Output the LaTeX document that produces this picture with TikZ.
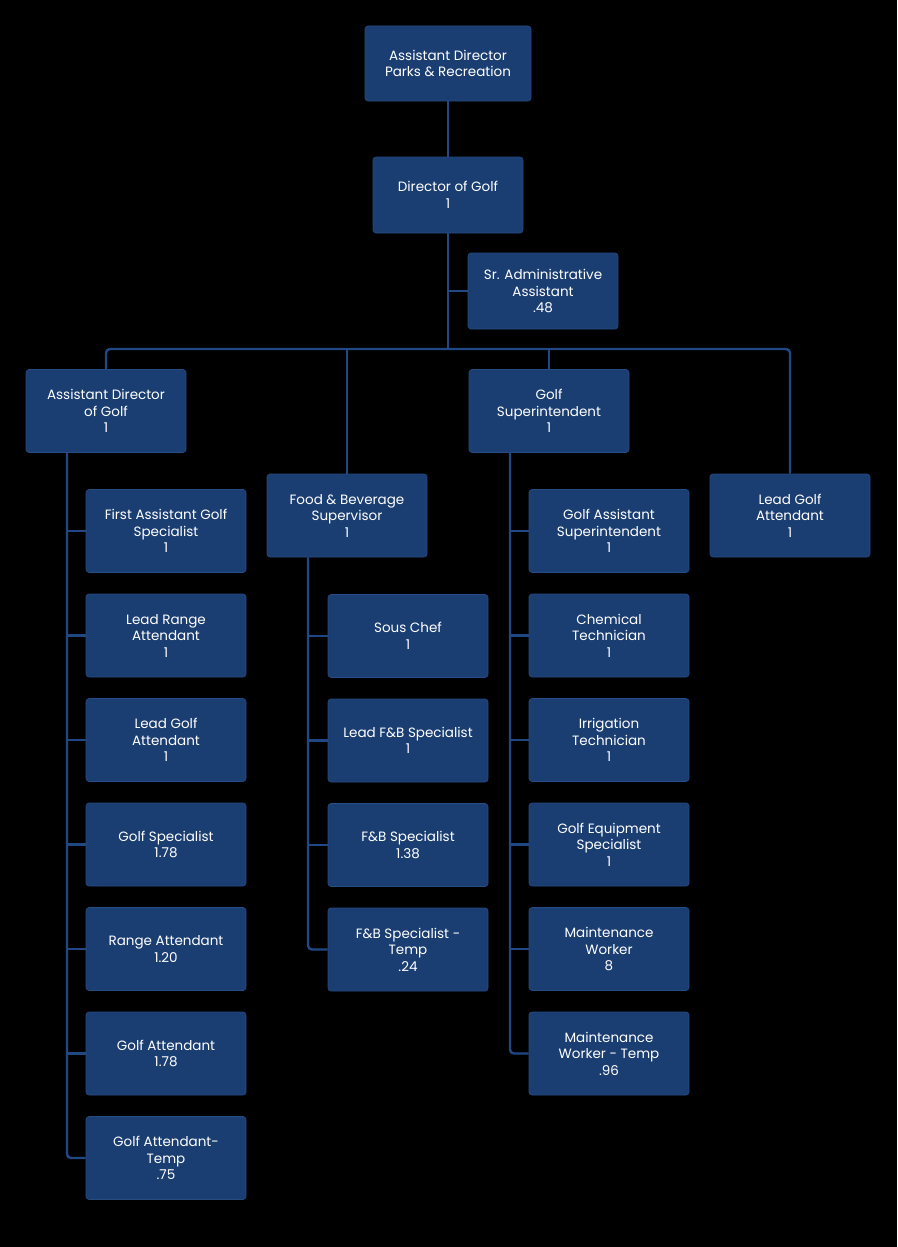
\documentclass[tikz,border=0pt]{standalone}
\usepackage{fontspec}
\setmainfont{Poppins}
\definecolor{unitblue}{RGB}{27,62,114}
\definecolor{unitedge}{RGB}{38,76,132}
\definecolor{linkblue}{RGB}{32,72,132}
\tikzset{
    unit/.style = {rectangle, rounded corners=3pt, fill=unitblue, draw=unitedge,
        line width=0.6pt, text=white, align=center, minimum width=160pt,
        minimum height=83pt, inner sep=2pt, font=\fontsize{13.5}{16.5}\selectfont},
    link/.style = {draw=linkblue, line width=2.4pt, rounded corners=4pt}
}
\begin{document}
\begin{tikzpicture}[x=1pt, y=-1pt]
        \fill[black] (0,0) rectangle (897,1247);
        \useasboundingbox (0,0) rectangle (897,1247);
        % top of the chart
        \node[unit, minimum width=166pt, minimum height=75pt] (adpr) at (448,63.5) {Assistant Director\\Parks \& Recreation};
        \node[unit, minimum width=150pt, minimum height=76pt] (dir) at (448,195) {Director of Golf\\1};
        \node[unit, minimum width=150pt, minimum height=76pt] (saa) at (543,291) {Sr. Administrative\\Assistant\\.48};
        \coordinate (bus) at (448,349);
        % second level
        \node[unit] (adg) at (106,411) {Assistant Director\\of Golf\\1};
        \node[unit] (fbs) at (347,515.5) {Food \& Beverage\\Supervisor\\1};
        \node[unit] (gsup) at (549,411) {Golf\\Superintendent\\1};
        \node[unit] (lga) at (790,515.5) {Lead Golf\\Attendant\\1};
        % golf operations
        \foreach \t [count=\i] in {{First Assistant Golf\\Specialist\\1}, {Lead Range\\Attendant\\1},
            {Lead Golf\\Attendant\\1}, {Golf Specialist\\1.78}, {Range Attendant\\1.20},
            {Golf Attendant\\1.78}, {Golf Attendant-\\Temp\\.75}} {
            \node[unit] (ops\i) at (166,531+104.5*\i-104.5) {\t};
        }
        % food and beverage
        \foreach \t [count=\i] in {{Sous Chef\\1}, {Lead F\&B Specialist\\1},
            {F\&B Specialist\\1.38}, {F\&B Specialist -\\Temp\\.24}} {
            \node[unit] (fb\i) at (408,636+104.5*\i-104.5) {\t};
        }
        % maintenance
        \foreach \t [count=\i] in {{Golf Assistant\\Superintendent\\1}, {Chemical\\Technician\\1},
            {Irrigation\\Technician\\1}, {Golf Equipment\\Specialist\\1},
            {Maintenance\\Worker\\8}, {Maintenance\\Worker - Temp\\.96}} {
            \node[unit] (mt\i) at (609,531+104.5*\i-104.5) {\t};
        }
        % connectors
        \draw[link] (adpr.south) -- (dir.north);
        \draw[link, rounded corners=0pt] (dir.south) -- (bus);
        \draw[link, rounded corners=0pt] (saa.west) -- (saa.west -| dir.south);
        \draw[link] (adg.north) |- (bus) -| (lga.north);
        \draw[link, rounded corners=0pt] (fbs.north) -- (fbs.north |- bus);
        \draw[link, rounded corners=0pt] (gsup.north) -- (gsup.north |- bus);
        \coordinate (opstop) at ([xshift=-39pt]adg.south);
        \coordinate (fbtop) at ([xshift=-39pt]fbs.south);
        \coordinate (mttop) at ([xshift=-39pt]gsup.south);
        \draw[link] (opstop) |- (ops7.west);
        \draw[link] (fbtop) |- (fb4.west);
        \draw[link] (mttop) |- (mt6.west);
        \foreach \i in {1,...,6} {
            \draw[link, rounded corners=0pt] (ops\i.west) -- (ops\i.west -| opstop);
        }
        \foreach \i in {1,2,3} {
            \draw[link, rounded corners=0pt] (fb\i.west) -- (fb\i.west -| fbtop);
        }
        \foreach \i in {1,...,5} {
            \draw[link, rounded corners=0pt] (mt\i.west) -- (mt\i.west -| mttop);
        }
    \end{tikzpicture}
\end{document}
